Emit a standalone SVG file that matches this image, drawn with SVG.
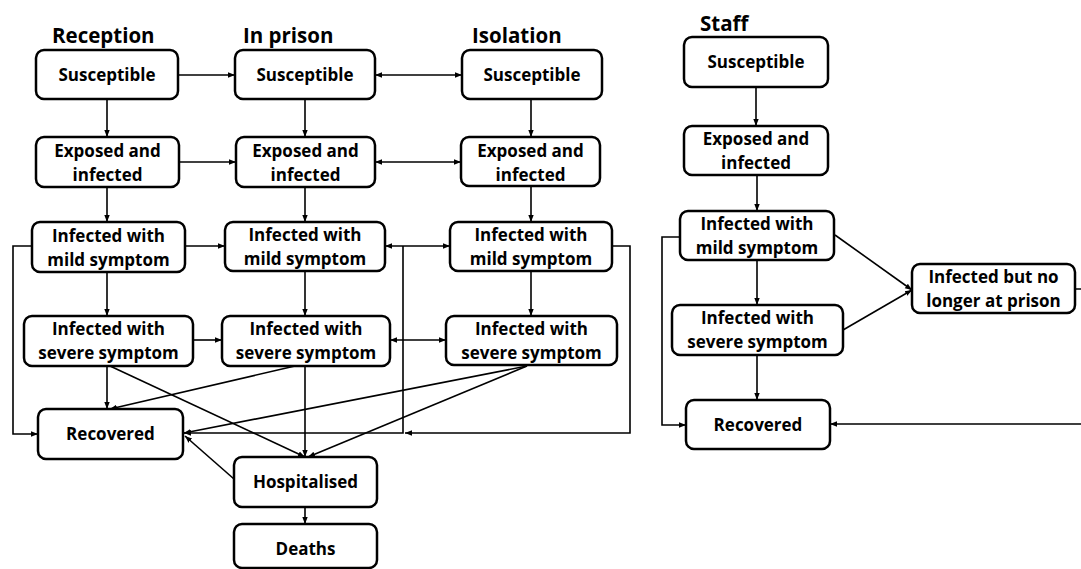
<svg xmlns="http://www.w3.org/2000/svg" width="1081" height="569" viewBox="0 0 1081 569">
<defs>
<marker id="arr" markerUnits="userSpaceOnUse" markerWidth="7" markerHeight="7" viewBox="0 0 7 7" refX="7" refY="3.5" orient="auto-start-reverse">
<path d="M0,0.8 L7,3.5 L0,6.2 Z" fill="#000"/>
</marker>
<style>
.box{fill:#fff;stroke:#000;stroke-width:2.5}
.t{font-family:"Open Sans","DejaVu Sans",sans-serif;font-weight:bold;font-size:17px;text-anchor:middle;fill:#000}
.h{font-family:"Open Sans","DejaVu Sans",sans-serif;font-weight:bold;font-size:20.5px;fill:#000}
.c{fill:none;stroke:#000;stroke-width:1.6}
.e{marker-end:url(#arr)}
.b{marker-start:url(#arr);marker-end:url(#arr)}
</style>
</defs>
<rect width="1081" height="569" fill="#fff"/>

<g id="headers">
<text class="h" x="52" y="43">Reception</text>
<text class="h" x="243" y="43">In prison</text>
<text class="h" x="472" y="43">Isolation</text>
<text class="h" x="700" y="31">Staff</text>
</g>

<g id="connectors">
<path class="c e" d="M178,75 H235"/>
<path class="c b" d="M375,75 H462"/>
<path class="c e" d="M107,99 V137"/>
<path class="c e" d="M305,99 V137"/>
<path class="c e" d="M531,99 V137"/>
<path class="c e" d="M179,162 H236"/>
<path class="c b" d="M375,162 H461"/>
<path class="c e" d="M107,187 V222"/>
<path class="c e" d="M305,187 V222"/>
<path class="c e" d="M531,186 V222"/>
<path class="c e" d="M185,246 H225"/>
<path class="c b" d="M385,246 H450"/>
<path class="c e" d="M107,272 V316"/>
<path class="c e" d="M305,271 V316"/>
<path class="c e" d="M531,271 V316"/>
<path class="c e" d="M193,340 H222"/>
<path class="c b" d="M390,340 H446"/>
<path class="c e" d="M32,246 H13 V434 H38"/>
<path class="c e" d="M107,366 V409"/>
<path class="c e" d="M110,366 L305,457"/>
<path class="c e" d="M295,366 L110,409"/>
<path class="c e" d="M305,366 V457"/>
<path class="c e" d="M527,366 L184,433"/>
<path class="c e" d="M527,366 L308,457"/>
<path class="c e" d="M403,246 V433 H184"/>
<path class="c e" d="M612,246 H630 V433 H405"/>
<path class="c e" d="M234,479 L185,436"/>
<path class="c e" d="M305,507 V524"/>
<path class="c e" d="M756,87 V126"/>
<path class="c e" d="M757,175 V211"/>
<path class="c e" d="M757,260 V305"/>
<path class="c e" d="M757,355 V400"/>
<path class="c e" d="M680,237 H662 V425 H686"/>
<path class="c e" d="M835,235 L912,290"/>
<path class="c e" d="M843,330 L912,290"/>
<path class="c e" d="M1075,289 H1095 V424 H830"/>
</g>

<g id="rec-susceptible"><rect class="box" x="36" y="50" width="142" height="49" rx="8"/><text class="t" x="107" y="81">Susceptible</text></g>
<g id="rec-exposed"><rect class="box" x="36" y="137" width="143" height="50" rx="8"/><text class="t" x="107.5" y="157">Exposed and</text><text class="t" x="107.5" y="181">infected</text></g>
<g id="rec-mild"><rect class="box" x="32" y="222" width="153" height="50" rx="8"/><text class="t" x="108.5" y="242">Infected with</text><text class="t" x="108.5" y="266">mild symptom</text></g>
<g id="rec-severe"><rect class="box" x="24" y="316" width="169" height="50" rx="8"/><text class="t" x="108.5" y="335">Infected with</text><text class="t" x="108.5" y="359">severe symptom</text></g>
<g id="recovered"><rect class="box" x="38" y="409" width="145" height="50" rx="8"/><text class="t" x="110.5" y="440">Recovered</text></g>

<g id="pri-susceptible"><rect class="box" x="235" y="50" width="140" height="49" rx="8"/><text class="t" x="305" y="81">Susceptible</text></g>
<g id="pri-exposed"><rect class="box" x="236" y="137" width="139" height="50" rx="8"/><text class="t" x="305.5" y="157">Exposed and</text><text class="t" x="305.5" y="181">infected</text></g>
<g id="pri-mild"><rect class="box" x="225" y="222" width="160" height="49" rx="8"/><text class="t" x="305" y="241">Infected with</text><text class="t" x="305" y="265">mild symptom</text></g>
<g id="pri-severe"><rect class="box" x="222" y="316" width="168" height="50" rx="8"/><text class="t" x="306" y="335">Infected with</text><text class="t" x="306" y="359">severe symptom</text></g>
<g id="hospitalised"><rect class="box" x="234" y="457" width="143" height="50" rx="8"/><text class="t" x="305.5" y="488">Hospitalised</text></g>
<g id="deaths"><rect class="box" x="234" y="524" width="143" height="44" rx="8"/><text class="t" x="305.5" y="555">Deaths</text></g>

<g id="iso-susceptible"><rect class="box" x="462" y="50" width="140" height="49" rx="8"/><text class="t" x="532" y="81">Susceptible</text></g>
<g id="iso-exposed"><rect class="box" x="461" y="137" width="139" height="49" rx="8"/><text class="t" x="530.5" y="157">Exposed and</text><text class="t" x="530.5" y="181">infected</text></g>
<g id="iso-mild"><rect class="box" x="450" y="222" width="162" height="49" rx="8"/><text class="t" x="531" y="241">Infected with</text><text class="t" x="531" y="265">mild symptom</text></g>
<g id="iso-severe"><rect class="box" x="446" y="316" width="171" height="49" rx="8"/><text class="t" x="531.5" y="335">Infected with</text><text class="t" x="531.5" y="359">severe symptom</text></g>

<g id="staff-susceptible"><rect class="box" x="684" y="37" width="144" height="50" rx="8"/><text class="t" x="756" y="68">Susceptible</text></g>
<g id="staff-exposed"><rect class="box" x="684" y="126" width="144" height="49" rx="8"/><text class="t" x="756" y="145">Exposed and</text><text class="t" x="756" y="169">infected</text></g>
<g id="staff-mild"><rect class="box" x="680" y="211" width="154" height="49" rx="8"/><text class="t" x="757" y="230">Infected with</text><text class="t" x="757" y="254">mild symptom</text></g>
<g id="staff-severe"><rect class="box" x="672" y="305" width="171" height="50" rx="8"/><text class="t" x="757.5" y="324">Infected with</text><text class="t" x="757.5" y="348">severe symptom</text></g>
<g id="staff-recovered"><rect class="box" x="686" y="400" width="144" height="49" rx="8"/><text class="t" x="758" y="431">Recovered</text></g>
<g id="staff-away"><rect class="box" x="912" y="264" width="163" height="49" rx="8"/><text class="t" x="993.5" y="283">Infected but no</text><text class="t" x="993.5" y="307">longer at prison</text></g>
</svg>
